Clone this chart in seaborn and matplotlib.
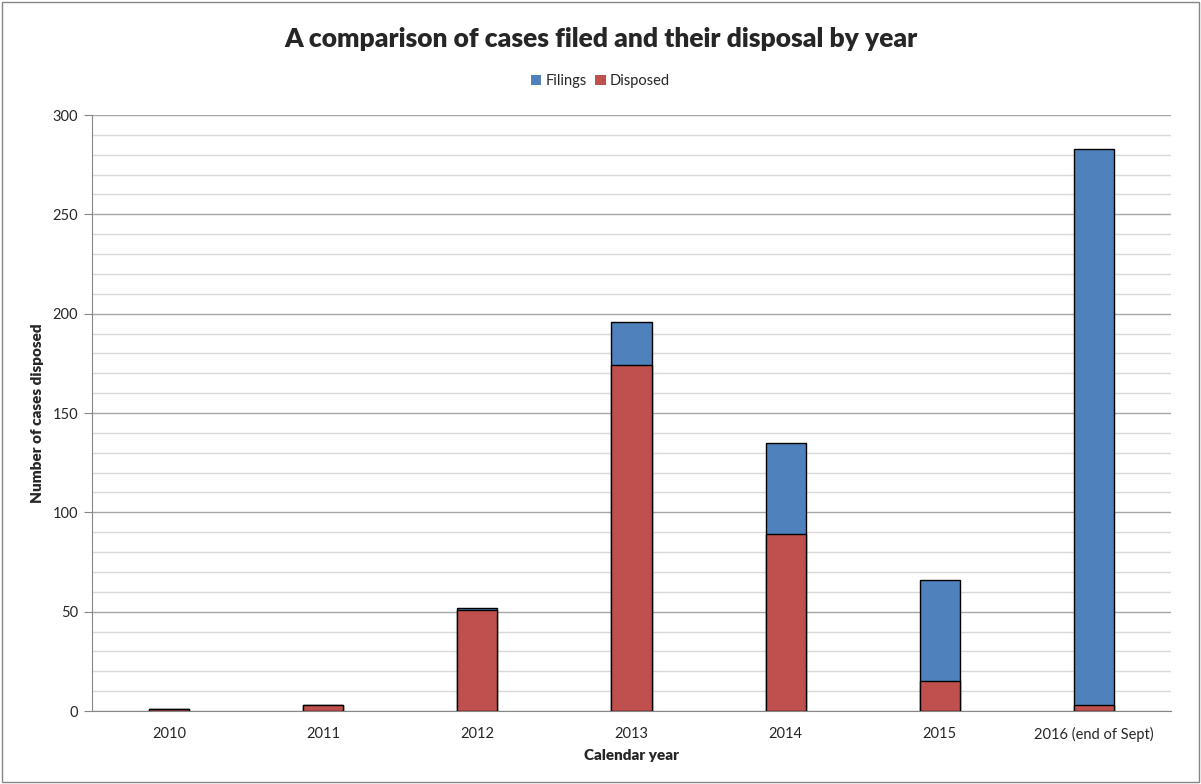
import matplotlib
matplotlib.use("Agg")
import matplotlib.pyplot as plt
import matplotlib.ticker as ticker
import pandas as pd
import seaborn as sns
from matplotlib.patches import Rectangle, Patch

years = ["2010", "2011", "2012", "2013", "2014", "2015", "2016 (end of Sept)"]
filings = [1, 3, 52, 196, 135, 66, 283]
disposed = [1, 3, 51, 174, 89, 15, 3]

df = pd.DataFrame({"year": years, "Filings": filings, "Disposed": disposed})

sns.set_style("white")
plt.rcParams["font.family"] = ["Lato", "DejaVu Sans"]

fig = plt.figure(figsize=(12.01, 7.84), dpi=100)
ax = fig.add_axes([0.0766, 0.0931, 0.8984, 0.7602])

blue = "#4F81BD"
red = "#C0504D"

# filings drawn behind, disposed overlapping in front
sns.barplot(data=df, x="year", y="Filings", color=blue, width=0.26,
            edgecolor="black", linewidth=1, saturation=1, ax=ax, zorder=2)
sns.barplot(data=df, x="year", y="Disposed", color=red, width=0.26,
            edgecolor="black", linewidth=1, saturation=1, ax=ax, zorder=3)

ax.set_ylim(0, 300)
ax.set_xlim(-0.5, 6.5)
ax.yaxis.set_major_locator(ticker.MultipleLocator(50))
ax.yaxis.set_minor_locator(ticker.MultipleLocator(10))
ax.grid(which="major", axis="y", color="#a6a6a6", linewidth=1, zorder=0)
ax.grid(which="minor", axis="y", color="#d9d9d9", linewidth=1, zorder=0)
ax.set_axisbelow(True)

for s in ["top", "right"]:
    ax.spines[s].set_visible(False)
ax.spines["left"].set_color("#868686")
ax.spines["bottom"].set_color("#868686")

ax.tick_params(axis="y", which="major", left=True, length=6, color="#868686",
               labelsize=10.5, pad=4)
ax.tick_params(axis="y", which="minor", left=False)
ax.tick_params(axis="x", bottom=False, labelsize=10.5, pad=8)

ax.set_xlabel("Calendar year", fontsize=11, fontweight="heavy", labelpad=5)
ax.set_ylabel("Number of cases disposed", fontsize=11, fontweight="heavy", labelpad=6)

fig.suptitle("A comparison of cases filed and their disposal by year",
             fontsize=19, fontweight="heavy", y=0.965)

handles = [Patch(facecolor=blue, edgecolor="none"), Patch(facecolor=red, edgecolor="none")]
fig.legend(handles, ["Filings", "Disposed"], loc="center", bbox_to_anchor=(0.5, 0.897),
           ncol=2, frameon=False, fontsize=10.5, handlelength=0.7, handleheight=0.7,
           handletextpad=0.3, columnspacing=0.6)

fig.patches.append(Rectangle((0.002, 0.002), 0.996, 0.996, transform=fig.transFigure,
                             fill=False, edgecolor="#868686", linewidth=1))

fig.savefig("out.png", dpi=100)
